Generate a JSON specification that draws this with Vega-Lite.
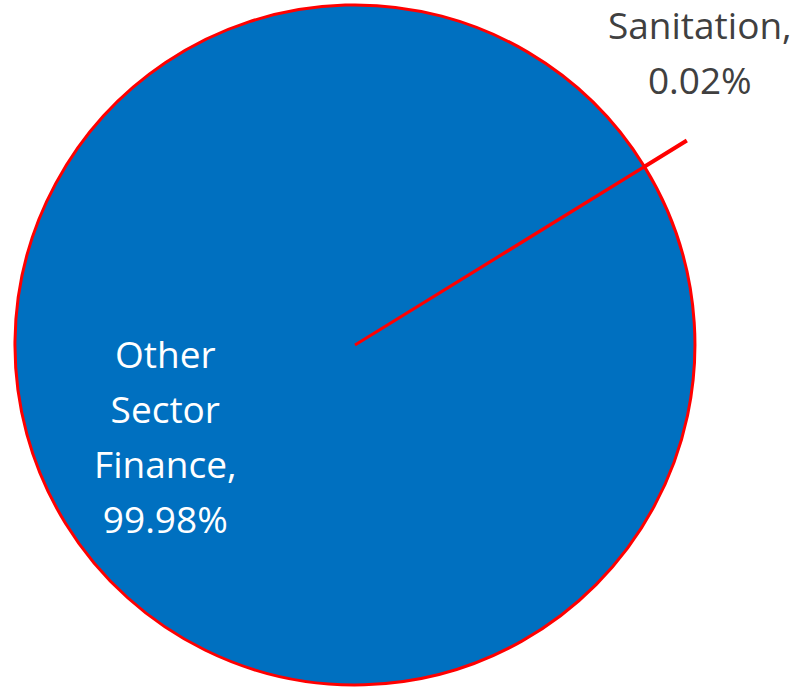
{
  "$schema": "https://vega.github.io/schema/vega-lite/v6.json",
  "width": 680,
  "height": 680,
  "autosize": "none",
  "padding": {"left": 15, "top": 5, "right": 107, "bottom": 3},
  "background": "white",
  "config": {"view": {"stroke": null}},
  "data": {"values": [
    {"category": "Sanitation", "share": 0.02, "order": 1, "label": "Sanitation,\n0.02%"},
    {"category": "Other Sector Finance", "share": 99.98, "order": 2, "label": "Other\nSector\nFinance,\n99.98%"}
  ]},
  "encoding": {
    "theta": {"field": "share", "type": "quantitative", "stack": true, "scale": {"domain": [0, 100], "range": [1.018, 7.3012]}},
    "order": {"field": "order", "type": "quantitative"}
  },
  "layer": [
    {
      "mark": {"type": "arc", "outerRadius": 388, "fillOpacity": 0, "stroke": "#FF0000", "strokeWidth": 3.5},
      "encoding": {"strokeOpacity": {"condition": {"test": "datum.category === 'Sanitation'", "value": 1}, "value": 0}}
    },
    {
      "mark": {"type": "arc", "outerRadius": 340, "stroke": "#FF0000", "strokeWidth": 3},
      "encoding": {"color": {"field": "category", "type": "nominal", "scale": {"domain": ["Sanitation", "Other Sector Finance"], "range": ["#0070C0", "#0070C0"]}, "legend": null}}
    },
    {
      "transform": [{"filter": "datum.category === 'Other Sector Finance'"}],
      "mark": {"type": "text", "radius": 223, "dy": -105, "font": "Open Sans", "fontSize": 37, "lineBreak": "\n", "lineHeight": 55, "align": "center", "baseline": "middle", "color": "white"},
      "encoding": {"text": {"field": "label"}}
    },
    {
      "transform": [{"filter": "datum.category === 'Sanitation'"}],
      "mark": {"type": "text", "radius": 405, "dy": -105, "font": "Open Sans", "fontSize": 37, "lineBreak": "\n", "lineHeight": 55, "align": "center", "baseline": "middle", "color": "#404040"},
      "encoding": {"text": {"field": "label"}}
    }
  ]
}
